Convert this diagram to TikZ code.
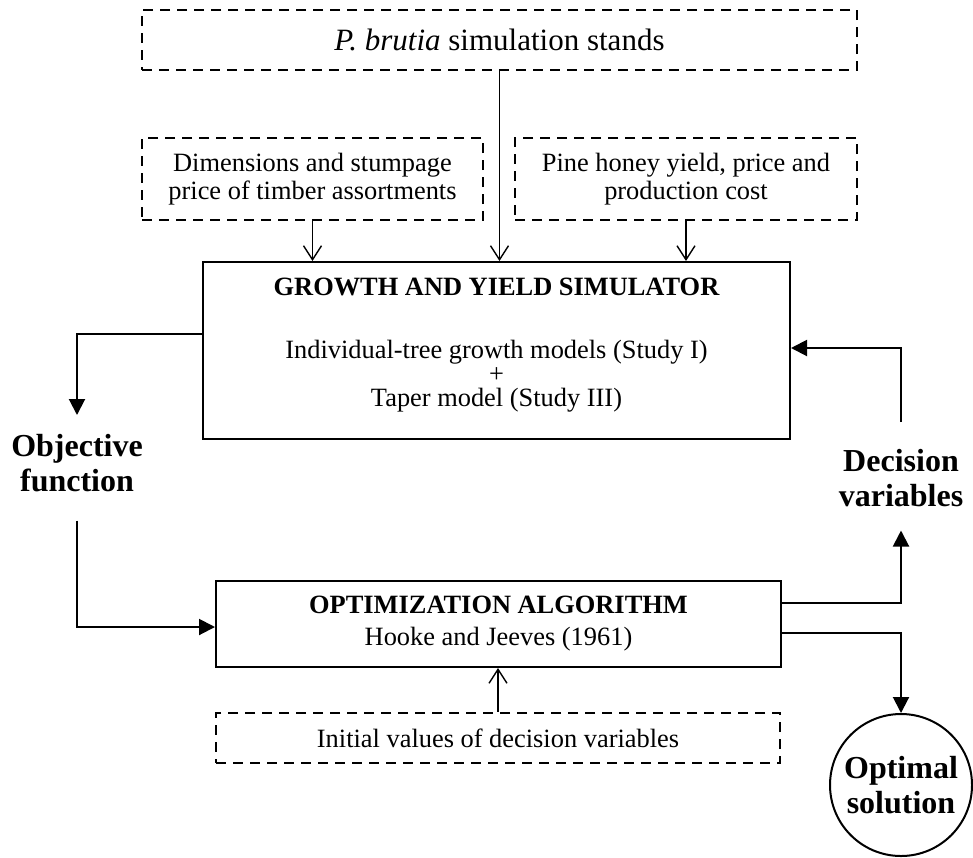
\documentclass[tikz,border=0pt]{standalone}
\usepackage{fontspec}
\setmainfont{Liberation Serif}
\usetikzlibrary{arrows.meta, positioning}

\begin{document}
\begin{tikzpicture}[x=0.5pt, y=-0.5pt, >={Triangle[length=8pt,width=8pt]}, line width=1pt]
    \tikzset{
        dashbox/.style={rectangle, draw, dash pattern=on 5pt off 3.5pt, line width=1.2pt, inner sep=0pt, align=center, font=\fontsize{13.2}{14}\selectfont},
        block/.style={rectangle, draw, line width=1pt, inner sep=0pt, align=center, font=\fontsize{13.2}{16}\selectfont},
        boldlabel/.style={align=center, inner sep=0pt, font=\fontsize{16}{17.5}\selectfont\bfseries},
        line/.style={draw, ->},
        feed/.style={draw, line width=0.7pt, -{Straight Barb[length=7pt,width=9pt]}}
    }
    \useasboundingbox (0,0) rectangle (973,857);

    \node (Stands) [dashbox, minimum width=357.5pt, minimum height=30pt, font=\fontsize{15.5}{17}\selectfont] at (499.5,40) {\textit{P. brutia} simulation stands};
    \node (Timber) [dashbox, minimum width=170.5pt, minimum height=41pt] at (312.5,179) {Dimensions and stumpage\\price of timber assortments};
    \node (Honey) [dashbox, minimum width=171pt, minimum height=41pt] at (686,179) {Pine honey yield, price and\\production cost};

    \node (Simulator) [block, minimum width=293.5pt, minimum height=88.5pt] at (496.5,350.5) {};
    \node (SimTitle) [font=\fontsize{13.2}{16}\selectfont\bfseries, inner sep=0pt, anchor=base] at (496.5,295) {GROWTH AND YIELD SIMULATOR};
    \node (SimModels) [align=center, inner sep=0pt, font=\fontsize{13.2}{12}\selectfont] at (496.5,376) {Individual-tree growth models (Study I)\\+\\Taper model (Study III)};

    \node (Objective) [boldlabel, anchor=north] at (77,433) {Objective\\function};
    \node (Decision) [boldlabel, anchor=north] at (901,448) {Decision\\variables};

    \node (Optimizer) [block, minimum width=282.5pt, minimum height=43pt] at (498.5,624) {\textbf{OPTIMIZATION ALGORITHM}\\Hooke and Jeeves (1961)};
    \node (Initial) [dashbox, minimum width=282pt, minimum height=25pt] at (498,738) {Initial values of decision variables};
    \node (Optimal) [circle, draw, line width=1pt, minimum size=71pt, inner sep=0pt, align=center, font=\fontsize{16}{17.5}\selectfont\bfseries] at (901,785) {Optimal\\solution};

    % inputs to the simulator
    \path [feed] (Stands) -- (Stands |- Simulator.north);
    \path [feed] (Timber) -- (Timber |- Simulator.north);
    \path [feed] (Honey) -- (Honey |- Simulator.north);
    \path [feed] (Initial) -- (Initial |- Optimizer.south);

    % optimization loop
    \path [line] ([yshift=8.25pt]Simulator.west) -| ([yshift=9pt]Objective.north);
    \path [line] ([yshift=-14pt]Objective.south) |- ([yshift=-1.5pt]Optimizer.west);
    \path [line] ([yshift=10.5pt]Optimizer.east) -| ([yshift=-11.5pt]Decision.south);
    \path [line] ([yshift=13pt]Decision.north) |- ([yshift=1.25pt]Simulator.east);
    \path [line] ([yshift=-4.5pt]Optimizer.east) -| (Optimal.north);
\end{tikzpicture}
\end{document}
